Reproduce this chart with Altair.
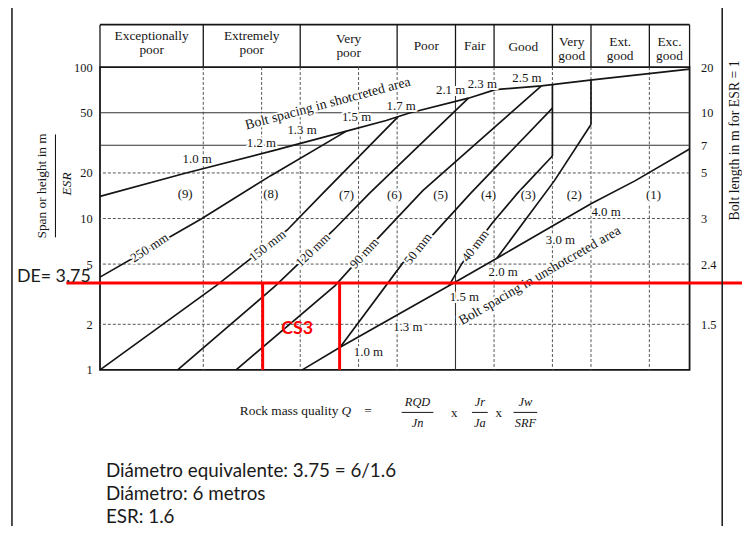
import altair as alt
import pandas as pd

# ---------------- data ----------------
Q_MIN, Q_MAX = 0.00086, 1040.0
S_MIN, S_MAX = 1.0, 100.0
W, H = 596, 306

x_ticks = [0.001, 0.004, 0.01, 0.04, 0.1, 0.4, 1, 4, 10, 40, 100, 400, 1000]
y_ticks = [1, 2, 5, 10, 20, 50, 100]
bolt_len_pos = [100, 50, 30.5, 20, 10, 5, 2]
bolt_len_lbl = ["20", "10", "7", "5", "3", "2.4", "1.5"]

class_bounds = [0.00086, 0.01, 0.1, 1, 4, 10, 40, 100, 400, 1040]
class_names = ["Exceptionally\npoor", "Extremely\npoor", "Very\npoor", "Poor", "Fair",
               "Good", "Very\ngood", "Ext.\ngood", "Exc.\ngood"]

# upper curve: bolt spacing in shotcreted area
shot_q = [0.00086, 0.0065, 0.054, 0.30, 0.77, 1.34, 5.44, 10.3, 30.8, 103, 1040]
shot_s = [14.0, 19.9, 28.2, 37.8, 44.4, 49.8, 62.4, 71.1, 75.2, 82.4, 97]
# shotcrete thickness lines
t250_q = [0.00086, 0.0096, 0.0496, 0.30]
t250_s = [4.1, 9.98, 19.2, 37.8]
t150_q = [0.00086, 0.0136, 0.0735, 0.170, 1.02]
t150_s = [1.0, 3.6, 8.4, 14.6, 47]
t120_q = [0.00544, 0.0558, 0.22, 0.514, 5.44]
t120_s = [1.0, 3.6, 8.37, 14.6, 62.4]
t90_q = [0.0218, 0.229, 0.565, 1.84, 30.8]
t90_s = [1.0, 3.6, 6.85, 15.3, 75.2]
t50_q = [0.258, 1.14, 2.32, 5.69, 40]
t50_s = [1.41, 5.07, 7.77, 14.6, 53.7]
t40_q = [3.42, 4.69, 9.5, 17.3, 40]
t40_s = [3.6, 5.07, 9.26, 14.6, 25.9]
b32_q = [10.7, 42, 100]
b32_s = [5.47, 17.8, 41.8]
v40_q = [40, 40]
v40_s = [25.9, 76.7]
v100_q = [100, 100]
v100_s = [41.8, 82.2]
# lower curve: bolt spacing in unshotcreted area
bolt_q = [0.105, 0.258, 3.42, 10.7, 100, 287, 1040]
bolt_s = [1.0, 1.41, 3.6, 5.47, 12.5, 17.8, 28.8]

vgrid_dash_q = [0.01, 0.04, 0.1, 0.4, 1, 10, 40, 100, 400]
vgrid_solid_q = [4]
hgrid_solid_s = [50, 30.5]
hgrid_dash_s = [20, 10, 5, 2]

cat_lbl = ["(9)", "(8)", "(7)", "(6)", "(5)", "(4)", "(3)", "(2)", "(1)"]
cat_q = [0.0065, 0.0497, 0.30, 0.94, 2.81, 8.77, 22.5, 67.3, 442]
cat_s = [14.5, 14.5, 14.3, 14.3, 14.3, 14.3, 14.3, 14.3, 14.2]

thick_lbl = ["250 mm", "150 mm", "120 mm", "90 mm", "50 mm", "40 mm"]
thick_q = [0.00279, 0.0459, 0.1355, 0.46, 1.64, 6.41]
thick_s = [6.4, 6.6, 6.2, 5.9, 6.3, 6.6]
thick_ang = [327, 322, 316, 312, 308, 307]

shot_sp_lbl = ["1.0 m", "1.2 m", "1.3 m", "1.5 m", "1.7 m", "2.1 m", "2.3 m", "2.5 m"]
shot_sp_q = [0.00865, 0.0398, 0.1045, 0.381, 1.1, 3.56, 7.56, 21.8]
shot_sp_s = [24.8, 31.5, 38.4, 46.7, 55, 71.1, 77.9, 85.3]

bolt_sp_lbl = ["1.0 m", "1.3 m", "1.5 m", "2.0 m", "3.0 m", "4.0 m"]
bolt_sp_q = [0.506, 1.29, 4.95, 12.4, 48.4, 143]
bolt_sp_s = [1.31, 1.91, 3.05, 4.44, 7.2, 11.0]

curve_lbl = ["Bolt spacing in shotcreted area", "Bolt spacing in unshotcreted area"]
curve_q = [0.193, 29.6]
curve_s = [57.5, 4.19]
curve_ang = [345, 330]

DE = 3.75
cs3_q = [0.041, 0.255]
notes = ["Diámetro equivalente: 3.75 = 6/1.6", "Diámetro: 6 metros", "ESR: 1.6"]

# ---------------- styling ----------------
SERIF = "Liberation Serif"
SANS = "Lato"
INK = "#151515"
RED = "#ff0000"

xs = alt.Scale(type="log", domain=[Q_MIN, Q_MAX], nice=False)
ys = alt.Scale(type="log", domain=[S_MIN, S_MAX], nice=False)
XN = alt.X("Q:Q", scale=xs, axis=None)
YN = alt.Y("S:Q", scale=ys, axis=None)

x_axis = alt.Axis(values=x_ticks, format="~g", title=None, grid=False, ticks=False, domain=False,
                  labelFont=SERIF, labelFontSize=12.5, labelColor=INK, labelPadding=11,
                  labelFlush=False, labelOverlap=False)
yl_axis = alt.Axis(values=y_ticks, format="~g", title=None, grid=False, ticks=False, domain=False,
                   orient="left", labelFont=SERIF, labelFontSize=12.5, labelColor=INK,
                   labelPadding=8, labelFlush=False, labelOverlap=False)
expr = " : ".join(f"datum.value == {p} ? '{l}'" for p, l in zip(bolt_len_pos, bolt_len_lbl)) + " : ''"
yr_axis = alt.Axis(values=bolt_len_pos, labelExpr=expr, title=None, grid=False, ticks=False,
                   domain=False, orient="right", labelFont=SERIF, labelFontSize=12.5,
                   labelColor=INK, labelPadding=11, labelFlush=False, labelOverlap=False)

layers = []

# grid
layers.append(alt.Chart(pd.DataFrame({"Q": vgrid_dash_q})).mark_rule(
    color="#555", strokeWidth=1, strokeDash=[3, 2]).encode(x=XN))
layers.append(alt.Chart(pd.DataFrame({"Q": vgrid_solid_q})).mark_rule(
    color="#333", strokeWidth=1.1).encode(x=XN))
layers.append(alt.Chart(pd.DataFrame({"S": hgrid_dash_s})).mark_rule(
    color="#555", strokeWidth=1, strokeDash=[3, 2]).encode(y=YN))
layers.append(alt.Chart(pd.DataFrame({"S": hgrid_solid_s})).mark_rule(
    color="#333", strokeWidth=1.1).encode(y=YN))

# curves
line_sets = [("shot", shot_q, shot_s), ("t250", t250_q, t250_s), ("t150", t150_q, t150_s),
             ("t120", t120_q, t120_s), ("t90", t90_q, t90_s), ("t50", t50_q, t50_s),
             ("t40", t40_q, t40_s), ("b32", b32_q, b32_s), ("v40", v40_q, v40_s),
             ("v100", v100_q, v100_s), ("bolt", bolt_q, bolt_s)]
lines_df = pd.concat([pd.DataFrame({"Q": q, "S": s, "line": n, "ord": list(range(len(q)))})
                      for n, q, s in line_sets], ignore_index=True)
layers.append(alt.Chart(lines_df).mark_line(color=INK, strokeWidth=1.7).encode(
    x=alt.X("Q:Q", scale=xs, axis=x_axis), y=alt.Y("S:Q", scale=ys, axis=yl_axis),
    detail="line:N", order="ord:Q"))

# right axis carrier
layers.append(alt.Chart(pd.DataFrame({"S": bolt_len_pos})).mark_point(opacity=0).encode(
    y=alt.Y("S:Q", scale=ys, axis=yr_axis)))


def text_layers(df, size, font=SERIF, style="normal", weight="normal", color=INK, halo=True):
    enc = {"x": XN, "y": YN, "text": "t:N"}
    if "ang" in df.columns:
        enc["angle"] = alt.Angle("ang:Q", scale=None)
    base = alt.Chart(df)
    out = []
    if halo:
        out.append(base.mark_text(font=font, fontSize=size, fontStyle=style, fontWeight=weight,
                                  color="white", stroke="white", strokeWidth=4,
                                  strokeJoin="round").encode(**enc))
    out.append(base.mark_text(font=font, fontSize=size, fontStyle=style, fontWeight=weight,
                              color=color).encode(**enc))
    return out


layers += text_layers(pd.DataFrame({"t": cat_lbl, "Q": cat_q, "S": cat_s}), 13)
layers += text_layers(pd.DataFrame({"t": thick_lbl, "Q": thick_q, "S": thick_s, "ang": thick_ang}), 13)
layers += text_layers(pd.DataFrame({"t": shot_sp_lbl, "Q": shot_sp_q, "S": shot_sp_s}), 13)
layers += text_layers(pd.DataFrame({"t": bolt_sp_lbl, "Q": bolt_sp_q, "S": bolt_sp_s}), 13)
layers += text_layers(pd.DataFrame({"t": curve_lbl, "Q": curve_q, "S": curve_s, "ang": curve_ang}), 14)

# header table (first-line pixel offset above the plot for each class label)
hdr_centers = [(a * b) ** 0.5 for a, b in zip(class_bounds[:-1], class_bounds[1:])]
hdr_y = [-31, -31, -28, -21, -21, -20, -25, -25, -25]
layers.append(alt.Chart(pd.DataFrame({"Q": class_bounds})).mark_rule(
    color=INK, strokeWidth=1.3).encode(x=XN, y=alt.value(-43), y2=alt.value(0)))
layers.append(alt.Chart(pd.DataFrame({"a": [0]})).mark_rule(color=INK, strokeWidth=1.6).encode(
    x=alt.value(0), x2=alt.value(W), y=alt.value(-43)))
layers.append(alt.Chart(pd.DataFrame({"t": class_names, "Q": hdr_centers, "hy": hdr_y})).mark_text(
    font=SERIF, fontSize=13.5, lineBreak="\n", lineHeight=14, baseline="middle", color=INK).encode(
    x=XN, y=alt.Y("hy:Q", scale=None), text="t:N"))


def px_text(text, x, y, size, font=SERIF, angle=0, align="center", style="normal",
            weight="normal", color=INK):
    return alt.Chart(pd.DataFrame({"t": [text]})).mark_text(
        font=font, fontSize=size, align=align, baseline="middle", angle=angle,
        fontStyle=style, fontWeight=weight, color=color).encode(
        x=alt.value(x), y=alt.value(y), text="t:N")


def px_rule(x, y, x2=None, y2=None, color=INK, width=1.0):
    enc = {"x": alt.value(x), "y": alt.value(y)}
    if x2 is not None:
        enc["x2"] = alt.value(x2)
    if y2 is not None:
        enc["y2"] = alt.value(y2)
    return alt.Chart(pd.DataFrame({"a": [0]})).mark_rule(color=color, strokeWidth=width).encode(**enc)


# axis titles
layers.append(px_text("Span or height in m", -59, 120, 13.5, angle=270))
layers.append(px_rule(-45, 68, y2=172, width=1.1))
layers.append(px_text("ESR", -33, 118, 13.5, angle=270, style="italic"))
layers.append(px_text("Bolt length in m for ESR = 1", 642, 74, 14, angle=270))

# x title with fractions
layers.append(px_text("Rock mass quality", 241, 348, 13.5, align="right"))
layers.append(px_text("Q", 249, 348, 13.5, style="italic"))
layers.append(px_text("=", 271, 348, 13.5))
layers.append(px_text("RQD", 321, 339, 12.5, style="italic"))
layers.append(px_rule(305, 349, x2=337, width=1))
layers.append(px_text("Jn", 321, 360, 12.5, style="italic"))
layers.append(px_text("x", 358, 350, 13))
layers.append(px_text("Jr", 384, 339, 12.5, style="italic"))
layers.append(px_rule(376, 349, x2=392, width=1))
layers.append(px_text("Ja", 384, 360, 12.5, style="italic"))
layers.append(px_text("x", 403, 350, 13))
layers.append(px_text("Jw", 430, 339, 12.5, style="italic"))
layers.append(px_rule(418, 349, x2=442, width=1))
layers.append(px_text("SRF", 430, 360, 12.5, style="italic"))

# red annotation
layers.append(alt.Chart(pd.DataFrame({"S": [DE]})).mark_rule(color=RED, strokeWidth=3).encode(
    y=YN, x=alt.value(-34), x2=alt.value(649)))
layers.append(alt.Chart(pd.DataFrame({"Q": cs3_q, "S": [DE, DE], "S2": [S_MIN, S_MIN]})).mark_rule(
    color=RED, strokeWidth=3).encode(x=XN, y=YN, y2="S2:Q"))
layers.append(alt.Chart(pd.DataFrame({"t": ["CS3"], "Q": [0.093], "S": [1.85]})).mark_text(
    font=SANS, fontSize=18, fontWeight="bold", color=RED).encode(x=XN, y=YN, text="t:N"))
layers.append(px_text("DE= 3.75", -84, 212, 18, font=SANS, align="left", color="#1a1a1a"))

# notes below
for txt, yy in zip(notes, [408, 431.5, 455]):
    layers.append(px_text(txt, 6, yy, 19, font=SANS, align="left", color="#1a1a1a"))

# slide frame lines
layers.append(px_rule(-89, -65, y2=475, color="#222", width=1.6))
layers.append(px_rule(629, -65, y2=475, color="#222", width=1.6))

chart = alt.layer(*layers).resolve_axis(y="independent").properties(
    width=W, height=H,
    autosize=alt.AutoSizeParams(type="none"),
    padding={"left": 93, "top": 57, "right": 53, "bottom": 155},
).configure(background="white").configure_view(stroke=INK, strokeWidth=1.8)

chart.save("out.html", embed_options={"renderer": "svg", "actions": False})
